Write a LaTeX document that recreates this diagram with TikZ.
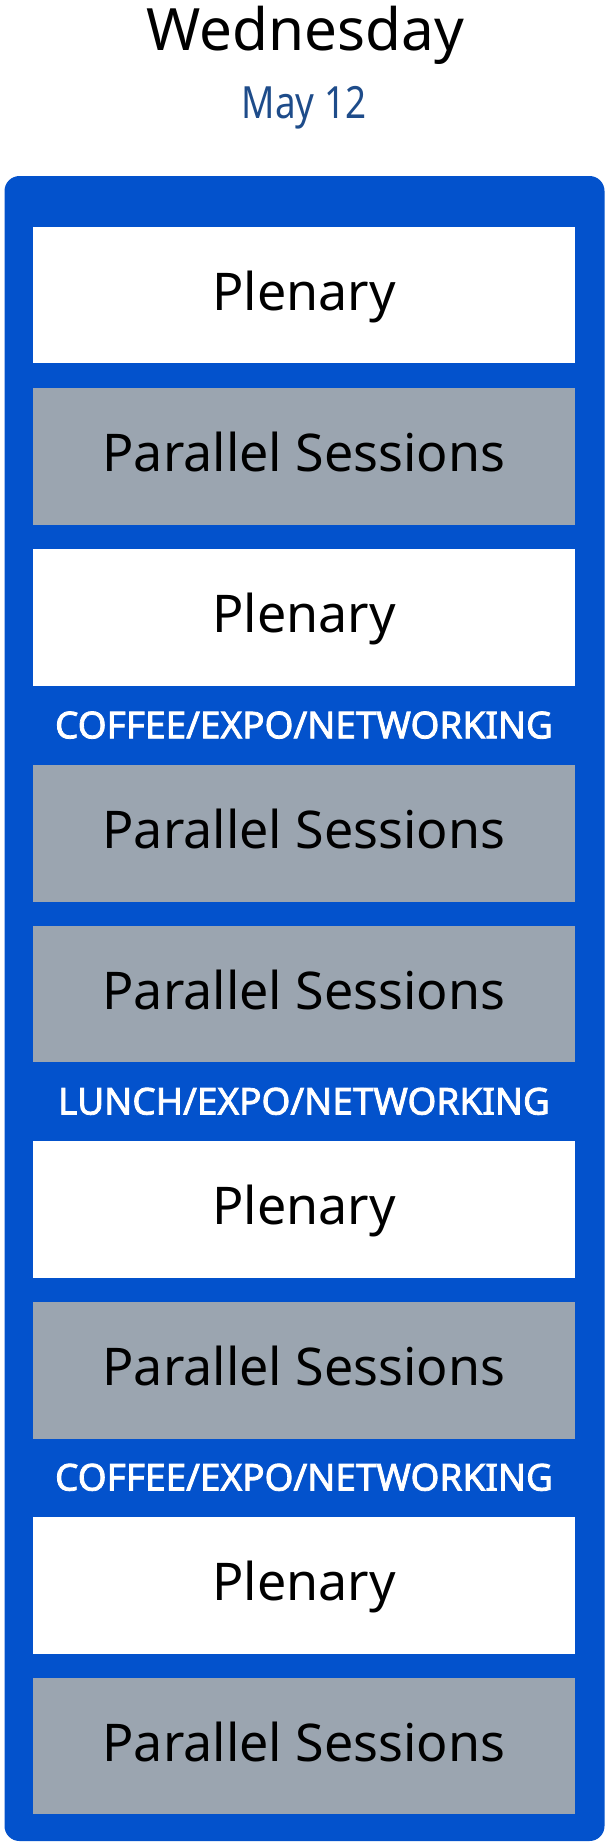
\documentclass[tikz,border=0pt]{standalone}
\usepackage{fontspec}
\usepackage{graphicx}
\setmainfont{Noto Sans}
\newfontfamily\breakfont{Noto Sans}[FakeBold=2.2]
\definecolor{dayblue}{RGB}{3,82,204}
\definecolor{slotgray}{RGB}{155,165,176}
\definecolor{datecol}{RGB}{30,76,138}
\begin{document}
\begin{tikzpicture}[x=1pt,y=-1pt,
  slotbox/.style={rectangle,inner sep=0pt,minimum width=542pt,minimum height=136.7pt,
    text height=30.3pt,text depth=0pt,font=\fontsize{52}{52}\selectfont,text=black},
  plenarybox/.style={slotbox,fill=white},
  parallelbox/.style={slotbox,fill=slotgray},
  breaklabel/.style={inner sep=0pt,anchor=base,text=white,font=\breakfont\fontsize{37}{37}\selectfont}]
\useasboundingbox (0,0) rectangle (610,1842);
\fill[white] (0,0) rectangle (610,1842);
% title
\node[anchor=base,inner sep=0pt,font=\fontsize{58.4}{58.4}\selectfont] (title) at (305,50.5) {Wednesday};
\node[anchor=base,inner sep=0pt,text=datecol,font=\fontsize{44.4}{44.4}\selectfont] (date) at (304,118.3) {\scalebox{0.83}[1]{May 12}};
% frame
\node[rectangle,fill=dayblue,rounded corners=15pt,inner sep=0pt,minimum width=600pt,minimum height=1665pt] (frame) at (304.5,1008.5) {};
% slots
\node[plenarybox]  (s1) at (304,294.9)  {Plenary};
\node[parallelbox] (s2) at (304,456.2)  {Parallel Sessions};
\node[plenarybox]  (s3) at (304,617.4)  {Plenary};
\node[breaklabel]  (b1) at (304,738.3)  {COFFEE/EXPO/NETWORKING};
\node[parallelbox] (s4) at (304,833.3)  {Parallel Sessions};
\node[parallelbox] (s5) at (304,994.1)  {Parallel Sessions};
\node[breaklabel]  (b2) at (304,1114.5) {LUNCH/EXPO/NETWORKING};
\node[plenarybox]  (s6) at (304,1209.8) {Plenary};
\node[parallelbox] (s7) at (304,1370.4) {Parallel Sessions};
\node[breaklabel]  (b3) at (304,1490.5) {COFFEE/EXPO/NETWORKING};
\node[plenarybox]  (s8) at (304,1585.2) {Plenary};
\node[parallelbox] (s9) at (304,1746.1) {Parallel Sessions};
\end{tikzpicture}
\end{document}
